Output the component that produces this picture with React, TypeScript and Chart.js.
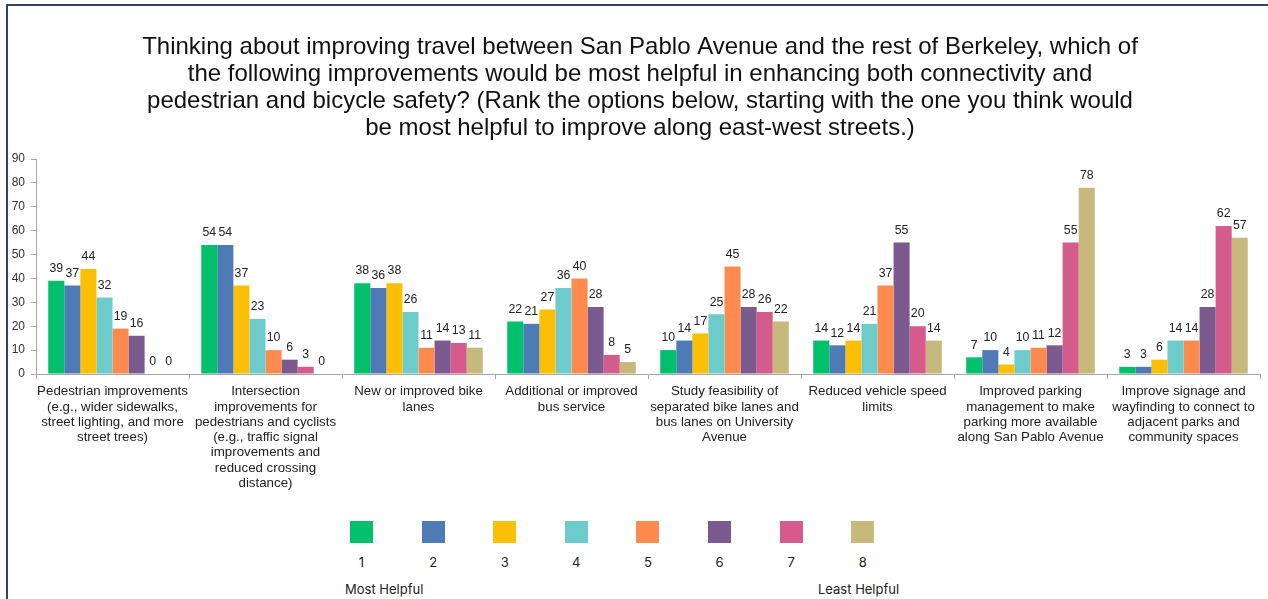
import React, { useEffect, useRef } from "react";
import { Chart, registerables } from "chart.js";

Chart.register(...registerables);

const titleLines = [
  "Thinking about improving travel between San Pablo Avenue and the rest of Berkeley, which of",
  "the following improvements would be most helpful in enhancing both connectivity and",
  "pedestrian and bicycle safety? (Rank the options below, starting with the one you think would",
  "be most helpful to improve along east-west streets.)",
];

const categories: string[][] = [
  ["Pedestrian improvements", "(e.g., wider sidewalks,", "street lighting, and more", "street trees)"],
  ["Intersection", "improvements for", "pedestrians and cyclists", "(e.g., traffic signal", "improvements and", "reduced crossing", "distance)"],
  ["New or improved bike", "lanes"],
  ["Additional or improved", "bus service"],
  ["Study feasibility of", "separated bike lanes and", "bus lanes on University", "Avenue"],
  ["Reduced vehicle speed", "limits"],
  ["Improved parking", "management to make", "parking more available", "along San Pablo Avenue"],
  ["Improve signage and", "wayfinding to connect to", "adjacent parks and", "community spaces"],
];

const rankLabels = ["1", "2", "3", "4", "5", "6", "7", "8"];

const rank1 = [39, 54, 38, 22, 10, 14, 7, 3];
const rank2 = [37, 54, 36, 21, 14, 12, 10, 3];
const rank3 = [44, 37, 38, 27, 17, 14, 4, 6];
const rank4 = [32, 23, 26, 36, 25, 21, 10, 14];
const rank5 = [19, 10, 11, 40, 45, 37, 11, 14];
const rank6 = [16, 6, 14, 28, 28, 55, 12, 28];
const rank7 = [0, 3, 13, 8, 26, 20, 55, 62];
const rank8 = [0, 0, 11, 5, 22, 14, 78, 57];

const seriesValues = [rank1, rank2, rank3, rank4, rank5, rank6, rank7, rank8];

const colors = ["#00c06b", "#4e7ab5", "#fbbf05", "#6dcbcc", "#fe8a4e", "#7b5b8f", "#d55b8c", "#c6b97b"];

const yTicks = [0, 10, 20, 30, 40, 50, 60, 70, 80, 90];

const FONT = "'Liberation Sans', Arial, sans-serif";

const valueLabelPlugin = {
  id: "valueLabels",
  afterDatasetsDraw(chart: any) {
    const ctx = chart.ctx;
    ctx.save();
    ctx.font = `12.3px ${FONT}`;
    ctx.fillStyle = "#222";
    ctx.textAlign = "center";
    ctx.textBaseline = "bottom";
    chart.data.datasets.forEach((ds: any, di: number) => {
      const meta = chart.getDatasetMeta(di);
      meta.data.forEach((bar: any, i: number) => {
        ctx.fillText(String(ds.data[i]), bar.x, bar.y - 6);
      });
    });
    ctx.restore();
  },
};

function ChartCanvas() {
  const ref = useRef<HTMLCanvasElement | null>(null);
  useEffect(() => {
    if (!ref.current) return;
    const chart = new Chart(ref.current, {
      type: "bar",
      data: {
        labels: categories,
        datasets: seriesValues.map((vals, i) => ({
          label: rankLabels[i],
          data: vals,
          backgroundColor: colors[i],
          borderWidth: 0,
          categoryPercentage: 0.84,
          barPercentage: 1.0,
        })),
      },
      options: {
        responsive: false,
        animation: false,
        layout: { padding: { left: 20, right: 8, top: 0, bottom: 0 } },
        plugins: {
          legend: { display: false },
          tooltip: { enabled: false },
          title: {
            display: true,
            text: titleLines,
            color: "#111",
            font: { family: FONT, size: 24, lineHeight: 1.125, weight: "normal" },
            padding: { top: 34, bottom: 17 },
          },
        },
        scales: {
          x: {
            grid: { display: true, drawOnChartArea: false, tickLength: 5, color: "#a6a6a6", offset: true },
            border: { display: true, color: "#a6a6a6" },
            ticks: {
              autoSkip: false,
              maxRotation: 0,
              minRotation: 0,
              padding: 5,
              color: "#222",
              font: { family: FONT, size: 13.3, lineHeight: 1.15 },
            },
            afterFit(scale: any) {
              scale.height = 126;
            },
          },
          y: {
            min: 0,
            max: 90,
            afterBuildTicks(scale: any) {
              scale.ticks = yTicks.map((v) => ({ value: v }));
            },
            grid: { display: true, drawOnChartArea: false, tickLength: 5, color: "#a6a6a6" },
            border: { display: true, color: "#a6a6a6" },
            ticks: {
              padding: 6,
              color: "#333",
              font: { family: FONT, size: 12 },
            },
            afterFit(scale: any) {
              scale.width = 16;
              scale._computeLabelArea = () => undefined;
            },
          },
        },
      },
      plugins: [valueLabelPlugin],
    } as any);
    return () => chart.destroy();
  }, []);
  return <canvas ref={ref} width={1268} height={500} style={{ position: "absolute", left: 0, top: 0, width: 1268, height: 500 }} />;
}

export default function App() {
  const legendFont = "Inter, 'Open Sans', sans-serif";
  return (
    <div style={{ position: "fixed", left: 0, top: 0, width: 1268, height: 599, background: "#fff", overflow: "hidden" }}>
      <div style={{ position: "absolute", left: 6, top: 4, width: 1262, height: 595, borderLeft: "2px solid #2e4269", borderTop: "2px solid #2e4269", boxSizing: "border-box" }} />
      <ChartCanvas />
      {rankLabels.map((lab, i) => {
        const left = 350 + i * 71.6;
        return (
          <React.Fragment key={lab}>
            <div style={{ position: "absolute", left, top: 521, width: 23, height: 22, background: colors[i] }} />
            <div style={{ position: "absolute", left: left - 10, width: 43, top: 554, textAlign: "center", fontFamily: legendFont, fontSize: 13, color: "#222" }}>{lab}</div>
          </React.Fragment>
        );
      })}
      <div style={{ position: "absolute", left: 345, top: 581, fontFamily: legendFont, fontSize: 13, color: "#222" }}>Most Helpful</div>
      <div style={{ position: "absolute", left: 818, top: 581, fontFamily: legendFont, fontSize: 13, color: "#222" }}>Least Helpful</div>
    </div>
  );
}
